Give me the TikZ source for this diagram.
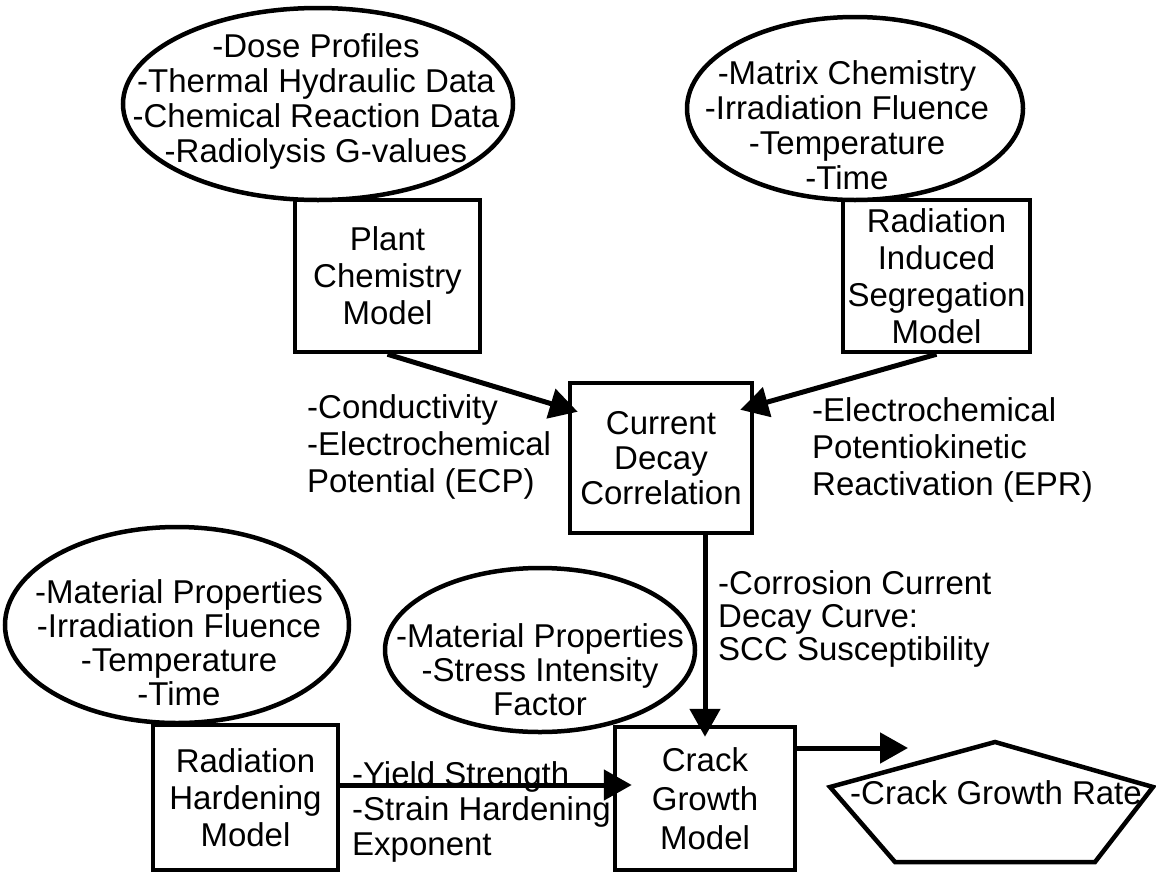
\documentclass[tikz,border=0pt]{standalone}
\usepackage{fontspec}
\setmainfont{Liberation Sans}
\usetikzlibrary{arrows.meta,shapes.geometric,calc}
\begin{document}
\begin{tikzpicture}[x=1pt,y=-1pt,
  lw/.style={line width=4.5pt},
  box/.style={draw,lw,rectangle,inner sep=0pt,align=center},
  oval/.style={draw,lw,ellipse,inner sep=0pt},
  txt/.style={align=center,inner sep=0pt},
  fA/.style={font=\fontsize{33}{35}\selectfont},
  fB/.style={font=\fontsize{33}{37}\selectfont},
  fC/.style={font=\fontsize{33}{39}\selectfont},
  fD/.style={font=\fontsize{33}{34}\selectfont},
  fE/.style={font=\fontsize{33}{33}\selectfont},
  arr/.style={line width=5pt,-{Triangle[length=28pt,width=30pt]}}]
\useasboundingbox (0,0) rectangle (1156,873);

% top-left input ellipse and plant chemistry model
\node[oval,minimum width=390pt,minimum height=192pt] (e1) at (318,104) {};
\node[txt,fA] (e1t) at (316,101.5) {-Dose Profiles\\-Thermal Hydraulic Data\\-Chemical Reaction Data\\-Radiolysis G-values};
\node[box,fB,minimum width=185pt,minimum height=152pt] (plant) at (387.5,276) {Plant\\Chemistry\\Model};

% top-right input ellipse and RIS model
\node[oval,minimum width=336pt,minimum height=183pt] (e2) at (855,108.5) {};
\node[txt,fA] (e2t) at (847,125) {-Matrix Chemistry\\-Irradiation Fluence\\-Temperature\\-Time};
\node[box,fB,minimum width=187pt,minimum height=152pt] (ris) at (936.5,276) {Radiation\\Induced\\Segregation\\Model};

% current decay correlation
\node[box,fA,minimum width=182pt,minimum height=150pt] (cdc) at (661,458) {Current\\Decay\\Correlation};

\node[txt,fB,align=left,anchor=west] (lab1) at (307,447) {-Conductivity\\-Electrochemical\\Potential (ECP)};
\node[txt,fB,align=left,anchor=west] (lab2) at (812,450) {-Electrochemical\\Potentiokinetic\\Reactivation (EPR)};

\draw[arr] (plant.south) -- ($(cdc.north west)+(10,31)$);
\draw[arr] (ris.south) -- ($(cdc.north east)+(-14,29)$);

% bottom-left input ellipse and radiation hardening model
\node[oval,minimum width=344pt,minimum height=196pt] (e3) at (177,625) {};
\node[txt,fD] (e3t) at (179,642.5) {-Material Properties\\-Irradiation Fluence\\-Temperature\\-Time};
\node[box,fB,minimum width=185pt,minimum height=145pt] (rh) at (245.5,797.5) {Radiation\\Hardening\\Model};

% middle input ellipse
\node[oval,minimum width=310pt,minimum height=164pt] (e4) at (540,650) {};
\node[txt,fD] (e4t) at (540,670) {-Material Properties\\-Stress Intensity\\Factor};

% crack growth model
\node[box,fC,minimum width=180pt,minimum height=143pt] (crack) at (705,798.5) {Crack\\Growth\\Model};

\node[txt,fE,align=left,anchor=west] (lab3) at (718,619) {-Corrosion Current\\Decay Curve:\\SCC Susceptibility};
\node[txt,fA,align=left,anchor=west] (lab4) at (352,811.5) {-Yield Strength\\-Strain Hardening\\Exponent};

\draw[arr] (cdc.south -| crack.north) -- ($(crack.north)+(0,12)$);
\draw[arr] ($(rh.east)+(0,-12.5)$) -- ($(crack.west)+(19,-13.5)$);

% output
\coordinate (rtip) at (908,748);
\draw[arr] ($(crack.east)+(0,-50.5)$) -- (rtip);

\coordinate (pA) at (995,742);
\coordinate (pB) at (1153,787);
\coordinate (pC) at (1095,862);
\coordinate (pD) at (895,862);
\coordinate (pE) at (830,787);
\draw[lw,line join=miter] (pA) -- (pB) -- (pC) -- (pD) -- (pE) -- cycle;
\node[txt,fA] (rate) at (996,793) {-Crack Growth Rate};
\end{tikzpicture}
\end{document}
